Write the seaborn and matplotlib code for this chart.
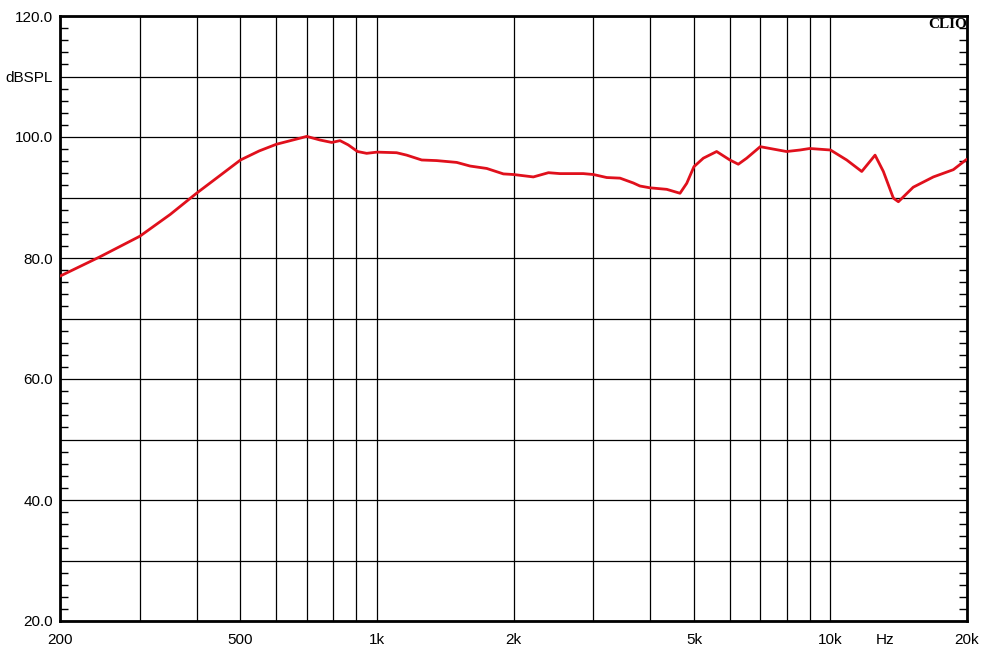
import matplotlib
matplotlib.use("Agg")
import matplotlib.pyplot as plt
import matplotlib.ticker as mticker
import seaborn as sns
import pandas as pd

# Frequency response (Hz, dB SPL)
freq_hz = [200, 245, 300, 350, 400, 450, 500, 550, 600, 676, 700, 749, 795, 829, 864,
           906, 949, 1000, 1105, 1163, 1255, 1354, 1499, 1604, 1746, 1900, 2000, 2212,
           2388, 2532, 2850, 3000, 3211, 3435, 3675, 3800, 4000, 4354, 4658, 4820,
           5000, 5244, 5610, 6000, 6262, 6535, 7000, 7482, 8000, 8568, 9000, 10000,
           10858, 11720, 12540, 13080, 13760, 14116, 15220, 16860, 18660, 19960]
spl_db = [77.0, 80.2, 83.6, 87.2, 90.7, 93.6, 96.2, 97.7, 98.8, 99.8, 100.1, 99.5,
          99.1, 99.4, 98.7, 97.6, 97.3, 97.5, 97.4, 97.0, 96.2, 96.1, 95.8, 95.2, 94.8,
          93.9, 93.8, 93.4, 94.1, 93.95, 93.95, 93.8, 93.3, 93.2, 92.4, 91.9, 91.6,
          91.35, 90.7, 92.35, 95.1, 96.5, 97.6, 96.2, 95.5, 96.5, 98.4, 98.0, 97.6,
          97.85, 98.1, 97.85, 96.2, 94.3, 97.0, 94.3, 89.9, 89.3, 91.7, 93.4, 94.6, 96.3]

x_ticks = [200, 300, 400, 500, 600, 700, 800, 900, 1000, 2000, 3000, 4000, 5000,
           6000, 7000, 8000, 9000, 10000, 20000]
x_labels = ["200", "", "", "500", "", "", "", "", "1k", "2k", "", "", "5k",
            "", "", "", "", "10k", "20k"]
unit_pos = [13200]
unit_label = ["Hz"]
y_ticks = [20, 30, 40, 50, 60, 70, 80, 90, 100, 110, 120]
y_labels = ["20.0", "", "40.0", "", "60.0", "", "80.0", "", "100.0", "dBSPL", "120.0"]

df = pd.DataFrame({"freq": freq_hz, "spl": spl_db})

sns.set_style("white")
plt.rcParams["font.family"] = ["Liberation Sans", "DejaVu Sans"]

fig = plt.figure(figsize=(9.85, 6.56), dpi=100)
ax = fig.add_axes([60 / 985, 35 / 656, 907 / 985, 605 / 656])

sns.lineplot(data=df, x="freq", y="spl", ax=ax, color="#e0101c", linewidth=2.0,
             zorder=5)

ax.set_xscale("log")
ax.set_xlim(200, 20000)
ax.set_ylim(20, 120)

ax.xaxis.set_major_locator(mticker.FixedLocator(x_ticks))
ax.xaxis.set_major_formatter(mticker.FixedFormatter(x_labels))
ax.xaxis.set_minor_locator(mticker.FixedLocator(unit_pos))
ax.xaxis.set_minor_formatter(mticker.FixedFormatter(unit_label))
ax.set_yticks(y_ticks)
ax.set_yticklabels(y_labels)
ax.yaxis.set_minor_locator(mticker.MultipleLocator(2))

ax.grid(True, which="major", color="black", linewidth=0.9)
ax.grid(False, which="minor")
ax.tick_params(axis="both", which="major", length=0, labelsize=11, colors="black")
ax.tick_params(axis="x", which="both", pad=9, length=0, labelsize=11,
               colors="black")
ax.tick_params(axis="y", which="major", pad=5)
ax.tick_params(axis="y", which="minor", direction="in", length=6, width=1,
               left=True, right=True, color="black")

for s in ax.spines.values():
    s.set_visible(True)
    s.set_color("black")
    s.set_linewidth(2)

ax.set_xlabel("")
ax.set_ylabel("")

ax.text(1.0, 0.996, "CLIO", transform=ax.transAxes, ha="right", va="top",
        fontsize=11, fontweight="bold", family=["Liberation Serif", "DejaVu Serif"],
        color="black", zorder=6)

fig.savefig("out.png", dpi=100, facecolor="white")
